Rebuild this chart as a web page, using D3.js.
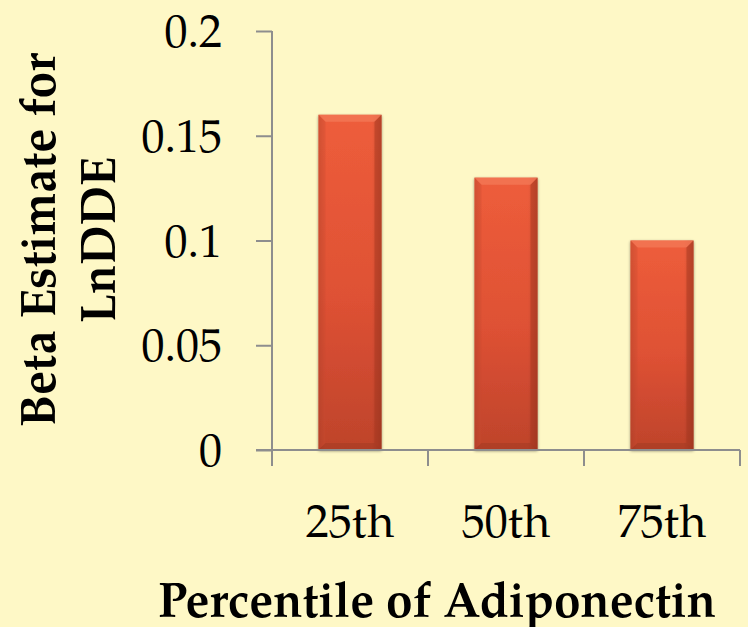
<!DOCTYPE html>
<html>
<head>
<meta charset="utf-8">
<script src="https://cdn.jsdelivr.net/npm/d3@7/dist/d3.min.js"></script>
<style>
  html, body { margin: 0; padding: 0; background: #FEF8C6; }
  svg { display: block; }
  text { font-family: "Palatino Linotype", "Book Antiqua", Palatino, "TeX Gyre Pagella", "Liberation Serif", serif; fill: #000; }
</style>
</head>
<body>
<svg id="chart" width="748" height="627"></svg>
<script>
// Beta estimates by adiponectin percentile
const categories = ["25th", "50th", "75th"];
const betaValues = [0.16, 0.13, 0.10];
const yTickValues = [0, 0.05, 0.1, 0.15, 0.2];
const yTickLabels = ["0", "0.05", "0.1", "0.15", "0.2"];
const xTitle = "Percentile of Adiponectin";
const yTitleLines = ["Beta Estimate for", "LnDDE"];

const W = 748, H = 627;
const plot = { left: 272, right: 740, top: 31, bottom: 450 };
const axisColor = "#8E8E8E";

const svg = d3.select("#chart");

const defs = svg.append("defs");
const grad = defs.append("linearGradient").attr("id", "barFill")
  .attr("x1", 0).attr("y1", 0).attr("x2", 0).attr("y2", 1);
grad.append("stop").attr("offset", "0%").attr("stop-color", "#EE5D3B");
grad.append("stop").attr("offset", "55%").attr("stop-color", "#DE5134");
grad.append("stop").attr("offset", "100%").attr("stop-color", "#BE432B");

const sideGrad = defs.append("linearGradient").attr("id", "sideShade")
  .attr("x1", 0).attr("y1", 0).attr("x2", 1).attr("y2", 0);
sideGrad.append("stop").attr("offset", "0%").attr("stop-color", "#000").attr("stop-opacity", 0.10);
sideGrad.append("stop").attr("offset", "10%").attr("stop-color", "#000").attr("stop-opacity", 0);
sideGrad.append("stop").attr("offset", "85%").attr("stop-color", "#000").attr("stop-opacity", 0);
sideGrad.append("stop").attr("offset", "100%").attr("stop-color", "#000").attr("stop-opacity", 0.18);

const shadow = defs.append("filter").attr("id", "barShadow")
  .attr("x", "-20%").attr("y", "-10%").attr("width", "140%").attr("height", "120%");
shadow.append("feGaussianBlur").attr("in", "SourceAlpha").attr("stdDeviation", 1.6).attr("result", "b");
shadow.append("feOffset").attr("in", "b").attr("dx", 0).attr("dy", 1).attr("result", "o");
shadow.append("feComponentTransfer").attr("in", "o").attr("result", "s")
  .append("feFuncA").attr("type", "linear").attr("slope", 0.45);
const merge = shadow.append("feMerge");
merge.append("feMergeNode").attr("in", "s");
merge.append("feMergeNode").attr("in", "SourceGraphic");

const x = d3.scaleBand()
  .domain(categories)
  .range([plot.left, plot.right])
  .paddingInner(0.596)
  .paddingOuter(0.298);

const y = d3.scaleLinear()
  .domain([0, 0.2])
  .range([plot.bottom, plot.top]);

// Bars with bevelled edges
const bars = svg.append("g").selectAll("g.bar")
  .data(categories.map((c, i) => ({ c, v: betaValues[i] })))
  .join("g").attr("class", "bar");

bars.each(function (d) {
  const g = d3.select(this);
  const x0 = x(d.c), w = x.bandwidth();
  const y0 = y(d.v), h = y(0) - y(d.v);
  const b = 7;
  g.append("rect").attr("x", x0).attr("y", y0).attr("width", w).attr("height", h)
    .attr("fill", "url(#barFill)").attr("filter", "url(#barShadow)");
  g.append("rect").attr("x", x0).attr("y", y0).attr("width", w).attr("height", h)
    .attr("fill", "url(#sideShade)");
  // top bevel
  g.append("path")
    .attr("d", `M${x0},${y0} L${x0 + w},${y0} L${x0 + w - b},${y0 + b} L${x0 + b},${y0 + b} Z`)
    .attr("fill", "#F37A58").attr("opacity", 0.75);
  // left bevel
  g.append("path")
    .attr("d", `M${x0},${y0} L${x0 + b},${y0 + b} L${x0 + b},${y0 + h - b} L${x0},${y0 + h} Z`)
    .attr("fill", "#C94A30").attr("opacity", 0.35);
  // right bevel
  g.append("path")
    .attr("d", `M${x0 + w},${y0} L${x0 + w},${y0 + h} L${x0 + w - b},${y0 + h - b} L${x0 + w - b},${y0 + b} Z`)
    .attr("fill", "#A8381F").attr("opacity", 0.5);
  // bottom bevel
  g.append("path")
    .attr("d", `M${x0},${y0 + h} L${x0 + w},${y0 + h} L${x0 + w - b},${y0 + h - b} L${x0 + b},${y0 + h - b} Z`)
    .attr("fill", "#9E3A22").attr("opacity", 0.45);
});

// Y axis
const yAxis = d3.axisLeft(y)
  .tickValues(yTickValues)
  .tickFormat((d, i) => yTickLabels[i])
  .tickSize(16)
  .tickPadding(34);

const gy = svg.append("g").attr("transform", `translate(${plot.left},0)`).call(yAxis);
gy.select(".domain").remove();
gy.selectAll(".tick line").attr("stroke", axisColor).attr("stroke-width", 2);
gy.selectAll(".tick text")
  .attr("font-size", 46)
  .attr("dy", "0.34em")
  .style("font-family", null);
gy.attr("font-family", null).attr("font-size", null);

svg.append("line")
  .attr("x1", plot.left).attr("x2", plot.left)
  .attr("y1", plot.top).attr("y2", plot.bottom + 16)
  .attr("stroke", axisColor).attr("stroke-width", 2);

// X axis
svg.append("line")
  .attr("x1", plot.left - 16).attr("x2", plot.right)
  .attr("y1", plot.bottom).attr("y2", plot.bottom)
  .attr("stroke", axisColor).attr("stroke-width", 2);

const step = x.step();
const boundaries = d3.range(categories.length + 1).map(i => plot.left + i * step);
svg.append("g").selectAll("line")
  .data(boundaries.slice(1))
  .join("line")
  .attr("x1", d => d).attr("x2", d => d)
  .attr("y1", plot.bottom).attr("y2", plot.bottom + 16)
  .attr("stroke", axisColor).attr("stroke-width", 2);

svg.append("g").selectAll("text")
  .data(categories)
  .join("text")
  .attr("x", d => x(d) + x.bandwidth() / 2)
  .attr("y", 537)
  .attr("text-anchor", "middle")
  .attr("font-size", 46)
  .text(d => d);

// Axis titles
svg.append("text")
  .attr("x", 437).attr("y", 617)
  .attr("text-anchor", "middle")
  .attr("font-size", 50)
  .attr("font-weight", "bold")
  .attr("textLength", 558)
  .attr("lengthAdjust", "spacingAndGlyphs")
  .text(xTitle);

const yTitleLen = [374, 166];
yTitleLines.forEach((line, i) => {
  svg.append("text")
    .attr("transform", `translate(${55 + i * 60},${240}) rotate(-90)`)
    .attr("text-anchor", "middle")
    .attr("font-size", 50)
    .attr("font-weight", "bold")
    .attr("textLength", yTitleLen[i])
    .attr("lengthAdjust", "spacingAndGlyphs")
    .text(line);
});
</script>
</body>
</html>
